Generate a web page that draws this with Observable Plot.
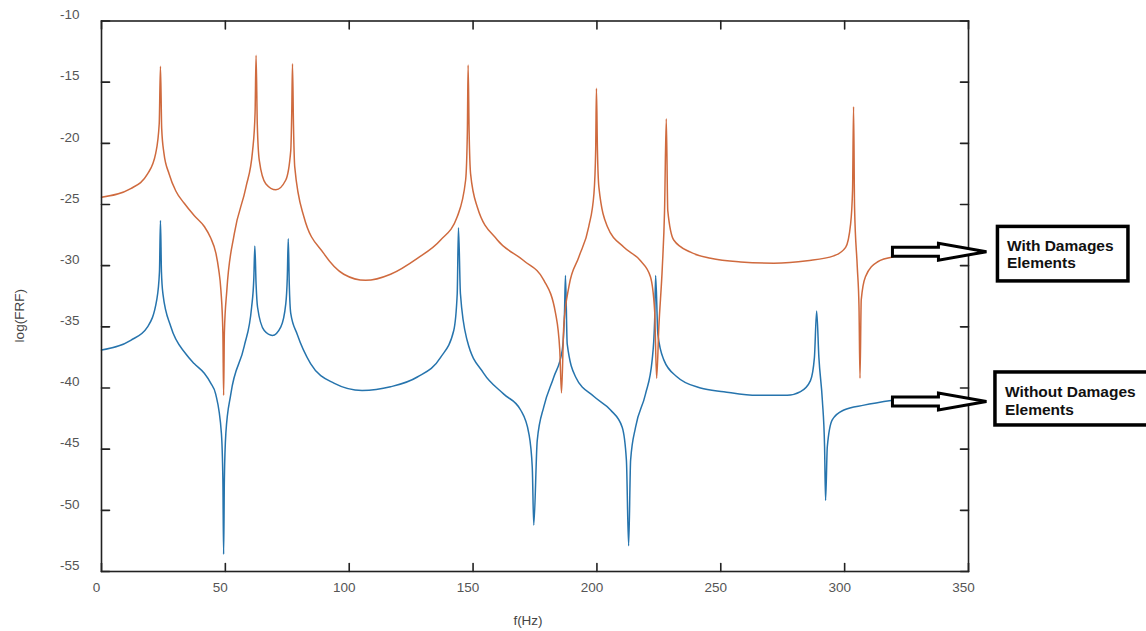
<!DOCTYPE html>
<html>
<head>
<meta charset="utf-8">
<script src="https://cdn.jsdelivr.net/npm/d3@7"></script>
<script src="https://cdn.jsdelivr.net/npm/@observablehq/plot@0.6"></script>
<style>
  html, body { margin: 0; padding: 0; background: #fff; }
  #chart { width: 1146px; height: 631px; }
</style>
</head>
<body>
<div id="chart"></div>
<script>
// ---- Data ----
const withF = [0, 11.8, 18.6, 21.9, 23.3, 23.8, 24.3, 25.2, 27.3, 30.0, 33.4, 37.4, 41.5, 44.0, 46.2, 47.3, 48.2, 49.0, 49.3, 49.6, 50.6, 53.6, 58.3, 61.0, 62.0, 62.4, 62.9, 63.7, 66.3, 70.4, 74.4, 76.4, 76.8, 77.1, 77.5, 78.0, 81.7, 89.7, 97.8, 106.6, 116.7, 127.5, 136.9, 143.6, 147.0, 147.7, 148.0, 148.4, 149.0, 151.7, 159.8, 170.5, 178.6, 183.3, 185.0, 185.7, 186.6, 188.7, 192.7, 196.7, 198.8, 199.5, 199.8, 200.2, 200.8, 204.2, 210.9, 217.6, 221.6, 223.3, 224.1, 225.0, 226.4, 227.3, 228.0, 228.6, 231.0, 237.8, 245.9, 258.0, 271.4, 284.9, 295.6, 300.4, 302.4, 303.2, 303.6, 304.0, 305.1, 305.8, 306.2, 306.7, 308.4, 313.2, 319.5];
const withY = [-24.4, -23.7, -22.5, -20.8, -18.4, -13.7, -18.8, -20.8, -22.5, -23.9, -24.9, -25.9, -26.8, -27.7, -29.0, -30.3, -32.0, -35.5, -40.6, -35.5, -32.0, -27.4, -23.6, -20.6, -17.5, -12.8, -18.5, -21.4, -23.3, -23.8, -23.0, -20.6, -17.5, -13.5, -18.5, -21.9, -26.0, -29.0, -30.7, -31.2, -30.7, -29.4, -27.9, -26.0, -23.0, -19.0, -13.6, -19.0, -22.5, -25.2, -27.9, -29.6, -31.2, -33.9, -36.9, -40.4, -35.0, -31.7, -29.3, -26.8, -24.1, -20.5, -15.5, -20.5, -23.6, -26.8, -28.5, -29.6, -30.9, -33.7, -39.2, -35.0, -30.1, -25.5, -18.0, -25.5, -27.9, -28.9, -29.4, -29.7, -29.8, -29.6, -29.2, -28.5, -26.6, -23.8, -17.0, -25.2, -30.1, -33.4, -39.2, -32.8, -30.9, -29.7, -29.3];

const withoutF = [0, 11.8, 18.6, 22.3, 23.4, 23.8, 24.2, 24.8, 28.0, 34.0, 37.4, 41.5, 44.1, 46.1, 48.4, 49.0, 49.3, 49.6, 50.2, 52.2, 57.6, 60.6, 61.5, 61.9, 62.4, 63.0, 65.7, 69.0, 72.4, 74.4, 75.0, 75.4, 75.8, 76.4, 79.0, 84.4, 93.8, 105.2, 116.7, 127.5, 136.9, 142.2, 143.6, 144.1, 144.9, 147.6, 154.3, 162.4, 169.2, 172.5, 173.9, 174.5, 175.9, 178.6, 182.6, 186.0, 186.9, 187.3, 188.0, 191.4, 198.8, 205.5, 210.2, 211.9, 212.8, 213.6, 215.6, 219.6, 222.3, 223.3, 223.7, 224.6, 227.0, 232.4, 241.8, 251.2, 264.7, 276.8, 282.2, 286.2, 287.8, 288.7, 289.6, 291.0, 291.9, 292.3, 293.0, 295.0, 299.7, 307.8, 319.5];
const withoutY = [-36.9, -36.1, -35.0, -32.8, -30.5, -26.3, -30.5, -32.3, -35.0, -37.2, -38.0, -38.8, -39.6, -40.5, -43.7, -47.5, -53.6, -47.5, -43.7, -40.5, -36.6, -33.4, -31.0, -28.4, -31.5, -33.4, -35.3, -35.7, -35.0, -33.1, -31.0, -27.8, -31.5, -33.9, -35.6, -38.0, -39.6, -40.2, -39.9, -39.1, -37.5, -35.3, -32.3, -26.9, -32.3, -36.1, -38.8, -40.5, -41.8, -43.7, -46.5, -51.2, -44.3, -41.5, -39.1, -36.9, -33.9, -30.8, -36.4, -39.1, -40.7, -41.8, -43.2, -45.9, -52.9, -45.9, -43.2, -40.5, -37.7, -34.5, -30.8, -35.6, -37.7, -39.1, -40.0, -40.3, -40.6, -40.6, -40.3, -39.4, -37.5, -33.7, -37.5, -41.0, -44.8, -49.2, -44.8, -42.6, -41.8, -41.4, -41.0];

const xTicks = [0, 50, 100, 150, 200, 250, 300, 350];
const yTicks = [-10, -15, -20, -25, -30, -35, -40, -45, -50, -55];
const xLabel = "f(Hz)";
const yLabel = "log(FRF)";
const noteLines = [["With Damages", "Elements"], ["Without Damages", "Elements"]];
const noteLevels = [-28.9, -41.15];

// ---- Build tables ----
const withData = withF.map((f, i) => ({f, v: withY[i]}));
const withoutData = withoutF.map((f, i) => ({f, v: withoutY[i]}));

const ORANGE = "#cf6a3e";
const BLUE = "#2674ad";
const INK = "#222";

const tickShape = {
  draw(context, l) { context.moveTo(0, 0); context.lineTo(0, -l); }
};
const tickOpts = {length: 8, anchor: "start", shape: tickShape, stroke: INK, strokeWidth: 1.6};

const W = 1146, H = 631, ML = 101, MR = 178, MT = 20.5, MB = 60;

const chart = Plot.plot({
  width: W,
  height: H,
  marginLeft: ML,
  marginRight: MR,
  marginTop: MT,
  marginBottom: MB,
  style: {fontFamily: "'Liberation Sans', Arial, Helvetica, sans-serif", fontSize: "13.5px", background: "#fff"},
  x: {domain: [0, 350]},
  y: {domain: [-55, -10]},
  marks: [
    Plot.line(withoutData, {x: "f", y: "v", stroke: BLUE, strokeWidth: 1.5, curve: "monotone-x"}),
    Plot.line(withData, {x: "f", y: "v", stroke: ORANGE, strokeWidth: 1.5, curve: "monotone-x"}),
    Plot.frame({stroke: INK, strokeWidth: 1.6}),
    Plot.vector(xTicks, {x: d => d, frameAnchor: "bottom", rotate: 0, ...tickOpts}),
    Plot.vector(xTicks, {x: d => d, frameAnchor: "top", rotate: 180, ...tickOpts}),
    Plot.vector(yTicks, {y: d => d, frameAnchor: "left", rotate: 90, ...tickOpts}),
    Plot.vector(yTicks, {y: d => d, frameAnchor: "right", rotate: -90, ...tickOpts}),
    Plot.axisX(xTicks, {tickSize: 0, tickPadding: 11, dx: -5, color: "#555", fontSize: 13.5, label: null, tickFormat: d => String(d)}),
    Plot.axisY(yTicks, {tickSize: 0, tickPadding: 22, dy: -6, color: "#555", fontSize: 13.5, label: null, tickFormat: d => String(d)}),
    Plot.text([xLabel], {frameAnchor: "bottom", dy: 49, dx: -7, lineAnchor: "middle", fill: "#444", fontSize: 13.5})
  ]
});

document.getElementById("chart").appendChild(chart);

const svg = d3.select(chart);

// y-axis title (rotated), placed left of the frame and a little below its middle
svg.append("text")
  .attr("transform", `translate(${ML - 81},${(MT + H - MB) / 2 + 20}) rotate(-90)`)
  .attr("text-anchor", "middle")
  .attr("dominant-baseline", "middle")
  .attr("font-family", "'Liberation Sans', Arial, sans-serif")
  .attr("font-size", 13.5)
  .attr("fill", "#444")
  .text(yLabel);

// ---- Annotations: hollow arrows + boxed labels, positioned through the chart's scales ----
const sx = chart.scale("x");
const sy = chart.scale("y");
const endF = [withF[withF.length - 1], withoutF[withoutF.length - 1]];
const noteG = svg.append("g").attr("class", "notes").attr("text-anchor", "start");

noteLines.forEach((lines, i) => {
  const x0 = sx.apply(endF[i]);
  const cy = sy.apply(noteLevels[i]);
  const xh = x0 + 46;
  const tip = x0 + 94;
  const pts = [[x0, cy - 4.5], [xh, cy - 4.5], [xh, cy - 8.5], [tip, cy], [xh, cy + 8.5], [xh, cy + 4.5], [x0, cy + 4.5]];
  noteG.append("path")
    .attr("d", "M" + pts.map(p => p.join(",")).join("L") + "Z")
    .attr("fill", "#fff")
    .attr("stroke", "#000")
    .attr("stroke-width", 3)
    .attr("stroke-linejoin", "miter");

  const bx = tip + 11 - 2.5 * i;
  const by = i === 0 ? cy - 25.3 : cy - 29.6;
  const bw = i === 0 ? 130.5 : 170;
  const bh = i === 0 ? 54.5 : 53;
  noteG.append("rect")
    .attr("x", bx).attr("y", by).attr("width", bw).attr("height", bh)
    .attr("fill", "#fff").attr("stroke", "#000").attr("stroke-width", 3.5);

  const t = noteG.append("text")
    .attr("text-anchor", "start")
    .attr("font-family", "'Liberation Sans', Arial, sans-serif")
    .attr("font-weight", "bold")
    .attr("font-size", 15.5)
    .attr("fill", "#111");
  lines.forEach((s, j) => {
    t.append("tspan")
      .attr("x", bx + 9.5 + 0.5 * i)
      .attr("y", by + 24.5 + 0.8 * i + j * 17.5)
      .text(s);
  });
});
</script>
</body>
</html>
